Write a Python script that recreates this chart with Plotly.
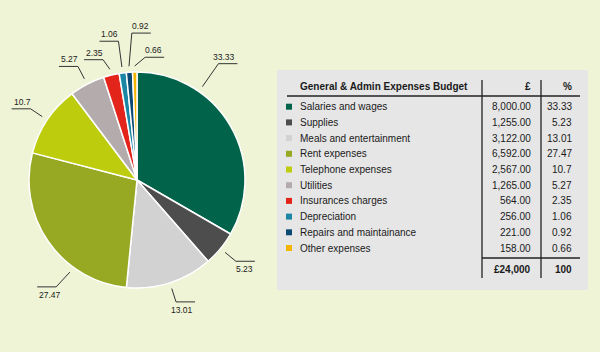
import math
import plotly.graph_objects as go

# ---------------- data ----------------
categories = ["Salaries and wages", "Supplies", "Meals and entertainment", "Rent expenses",
              "Telephone expenses", "Utilities", "Insurances charges", "Depreciation",
              "Repairs and maintainance", "Other expenses"]
amounts = [8000.00, 1255.00, 3122.00, 6592.00, 2567.00, 1265.00, 564.00, 256.00, 221.00, 158.00]
percents = ["33.33", "5.23", "13.01", "27.47", "10.7", "5.27", "2.35", "1.06", "0.92", "0.66"]
total_label = "£24,000"
total_pct = "100"
table_title = "General & Admin Expenses Budget"
col_amount = "£"
col_pct = "%"

colors = ["#00634a", "#4d4d4d", "#d2d2d2", "#97a923", "#bdcc0c",
          "#b4acac", "#e3241b", "#1b87a4", "#0c4a74", "#f4b400"]

W, H = 600, 352
BG = "#eff4d6"
cx, cy, R = 137, 180, 108

fig = go.Figure()

fig.add_trace(go.Pie(
    labels=categories, values=amounts, sort=False, direction="clockwise", rotation=0,
    marker=dict(colors=colors, line=dict(color="white", width=1.5)),
    textinfo="none", hoverinfo="label+percent", showlegend=False,
    domain=dict(x=[(cx - R) / W, (cx + R) / W], y=[(H - cy - R) / H, (H - cy + R) / H]),
))

# ------------- leader lines / labels (layout tweaks per label) -------------
# (angle offset deg, elbow radius, elbow angle offset, side) - purely label layout
tweaks = {
    0: (-25, 142, 0, 1),
    3: (-19, 134, 1, -1),
    6: (0, 125, -2, None),
    7: (0, 140, 0, -1),
    8: (0, 147, 2, 1),
    9: (0, 123, 5, 1),
}
tot = sum(amounts)
lx, ly = [], []
annotations = []
cum = 0.0
for i, v in enumerate(amounts):
    mid = (cum + v / 2) / tot * 360.0
    cum += v
    da, re, dea, side = tweaks.get(i, (0, 128, 0, None))
    th = math.radians(mid + da)
    the = math.radians(mid + da + dea)
    sx, sy = cx + (R + 6) * math.sin(th), cy - (R + 6) * math.cos(th)
    ex, ey = cx + re * math.sin(the), cy - re * math.cos(the)
    if side is None:
        side = 1 if math.sin(th) >= 0 else -1
    hx = ex + 19 * side
    lx += [sx, ex, hx, None]
    ly += [sy, ey, ey, None]
    top = ey < cy
    annotations.append(dict(
        x=hx, y=ey + (-7 if top else 8), xref="x", yref="y", text=percents[i],
        showarrow=False, xanchor="right" if side > 0 else "left", yanchor="middle",
        font=dict(family="Liberation Sans, Arial", size=8.5, color="#222222")))

fig.add_trace(go.Scatter(x=lx, y=ly, mode="lines", line=dict(color="#333333", width=1),
                         hoverinfo="skip", showlegend=False))

# ---------------- table ----------------
tx0, tx1, ty0, ty1 = 277, 588, 70, 290
name_x, sq_x, amt_x, pct_x = 298, 289, 533, 574
vl1, vl2 = 482, 541
row0, rstep = 106.7, 15.7
fnt = dict(family="Liberation Sans, Arial", size=10, color="#1a1a1a")
fntb = dict(family="Liberation Sans, Arial", size=10, color="#1a1a1a", weight="bold")

shapes = [
    dict(type="rect", xref="x", yref="y", x0=tx0, x1=tx1, y0=ty0, y1=ty1,
         fillcolor="#e6e6e6", line=dict(width=0), layer="below"),
    dict(type="line", xref="x", yref="y", x0=287, x1=580, y0=96, y1=96,
         line=dict(color="#222222", width=1.3)),
    dict(type="line", xref="x", yref="y", x0=vl1, x1=vl1, y0=80, y1=278,
         line=dict(color="#222222", width=1.3)),
    dict(type="line", xref="x", yref="y", x0=vl2, x1=vl2, y0=80, y1=278,
         line=dict(color="#222222", width=1.3)),
    dict(type="line", xref="x", yref="y", x0=vl1, x1=580, y0=258, y1=258,
         line=dict(color="#222222", width=1.3)),
]

annotations += [
    dict(x=name_x, y=86, text=table_title, xanchor="left", font=fntb),
    dict(x=amt_x, y=86, text=col_amount, xanchor="right", font=fntb),
    dict(x=pct_x, y=86, text=col_pct, xanchor="right", font=fntb),
    dict(x=amt_x, y=269, text=total_label, xanchor="right", font=fntb),
    dict(x=pct_x, y=269, text=total_pct, xanchor="right", font=fntb),
]
ys = []
for i, c in enumerate(categories):
    y = row0 + i * rstep
    ys.append(y)
    annotations += [
        dict(x=name_x, y=y, text=c, xanchor="left", font=fnt),
        dict(x=amt_x, y=y, text=f"{amounts[i]:,.2f}", xanchor="right", font=fnt),
        dict(x=pct_x, y=y, text=percents[i], xanchor="right", font=fnt),
    ]
for a in annotations:
    a.setdefault("xref", "x")
    a.setdefault("yref", "y")
    a.setdefault("showarrow", False)
    a.setdefault("yanchor", "middle")

fig.add_trace(go.Scatter(x=[sq_x] * len(categories), y=ys, mode="markers",
                         marker=dict(symbol="square", size=6, color=colors, line=dict(width=0)),
                         hoverinfo="skip", showlegend=False))

fig.update_layout(
    width=W, height=H, margin=dict(l=0, r=0, t=0, b=0),
    paper_bgcolor=BG, plot_bgcolor=BG,
    xaxis=dict(range=[0, W], visible=False, fixedrange=True, domain=[0, 1]),
    yaxis=dict(range=[H, 0], visible=False, fixedrange=True, domain=[0, 1]),
    shapes=shapes, annotations=annotations,
)

fig.write_html("out.html", config={"displayModeBar": False})
